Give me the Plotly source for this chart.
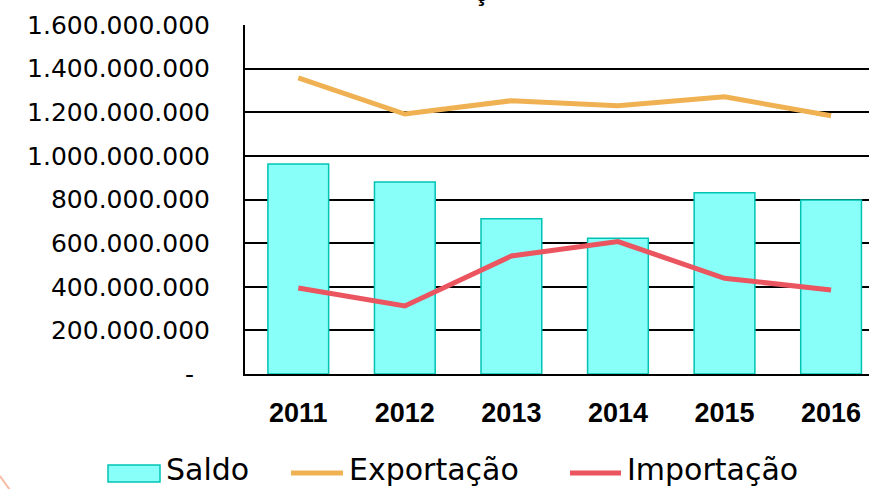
import plotly.graph_objects as go

years = ["2011", "2012", "2013", "2014", "2015", "2016"]
saldo = [963e6, 880e6, 712e6, 622e6, 831e6, 798e6]
exportacao = [1358e6, 1192e6, 1253e6, 1230e6, 1271e6, 1184e6]
importacao = [394e6, 312e6, 541e6, 607e6, 439e6, 385e6]

ytick_vals = [0, 200e6, 400e6, 600e6, 800e6, 1000e6, 1200e6, 1400e6, 1600e6]
ytick_text = ["-\u00a0\u00a0", "200.000.000", "400.000.000", "600.000.000", "800.000.000",
              "1.000.000.000", "1.200.000.000", "1.400.000.000", "1.600.000.000"]

W, H = 869, 489
L, R, T, B = 245, 0, 25, 115
PW, PH = W - L - R, H - T - B

def px(x):
    return (x - L) / PW

def py(y):
    return (H - B - y) / PH

C_BAR = "#88FFF8"
C_BAR_LINE = "#00C3B3"
C_EXP = "#EFB152"
C_IMP = "#EA5560"

fig = go.Figure()
fig.add_trace(go.Bar(x=years, y=saldo, name="Saldo", width=0.57,
                     marker=dict(color=C_BAR, line=dict(color=C_BAR_LINE, width=1.5)),
                     showlegend=False))
fig.add_trace(go.Scatter(x=years, y=exportacao, name="Exportação", mode="lines",
                         line=dict(color=C_EXP, width=5), showlegend=False))
fig.add_trace(go.Scatter(x=years, y=importacao, name="Importação", mode="lines",
                         line=dict(color=C_IMP, width=5), showlegend=False))

fig.update_layout(
    width=W, height=H, autosize=False,
    margin=dict(l=L, r=R, t=T, b=B, pad=0),
    paper_bgcolor="white", plot_bgcolor="white",
    font=dict(family="DejaVu Sans", color="black"),
)
fig.update_xaxes(type="category", range=[-0.5, 5.356],
                 showline=True, linecolor="black", linewidth=2,
                 showgrid=False, ticks="", ticklabelstandoff=14,
                 tickfont=dict(family="Liberation Sans", size=27, color="black", weight="bold"))
fig.update_yaxes(range=[0, 1.6e9], tickvals=ytick_vals, ticktext=ytick_text,
                 showline=True, linecolor="black", linewidth=2,
                 showgrid=True, gridcolor="black", gridwidth=2, zeroline=False,
                 ticks="", ticklabelstandoff=28,
                 tickfont=dict(family="DejaVu Sans", size=25, color="black"))

# legend (drawn manually to match symbol sizes)
shapes = [
    dict(type="rect", xref="paper", yref="paper", x0=px(108), x1=px(160), y0=py(482), y1=py(465),
         fillcolor=C_BAR, line=dict(color=C_BAR_LINE, width=1.5)),
    dict(type="line", xref="paper", yref="paper", x0=px(291), x1=px(343), y0=py(473), y1=py(473),
         line=dict(color=C_EXP, width=5)),
    dict(type="line", xref="paper", yref="paper", x0=px(570), x1=px(621), y0=py(473), y1=py(473),
         line=dict(color=C_IMP, width=5)),
    dict(type="path", xref="paper", yref="paper",
         path=f"M {px(0)},{py(476)} Q {px(4)},{py(482)} {px(10)},{py(490)}",
         line=dict(color="#F9BBA3", width=2)),
]
LEG_FONT = dict(family="DejaVu Sans", size=30, color="black")
annotations = [
    dict(text="Saldo", x=px(164), y=py(470), xref="paper", yref="paper", xanchor="left", yanchor="middle",
         showarrow=False, font=LEG_FONT),
    dict(text="Exportação", x=px(347), y=py(470), xref="paper", yref="paper", xanchor="left", yanchor="middle",
         showarrow=False, font=LEG_FONT),
    dict(text="Importação", x=px(625), y=py(470), xref="paper", yref="paper", xanchor="left", yanchor="middle",
         showarrow=False, font=LEG_FONT),
    dict(text="ç", x=px(481), y=py(-8), xref="paper", yref="paper", xanchor="center", yanchor="middle",
         showarrow=False, font=dict(family="Liberation Sans", size=26, color="black", weight="bold")),
]
fig.update_layout(shapes=shapes, annotations=annotations)

fig.write_html("out.html", config={"displayModeBar": False},
               post_script="document.body.style.margin='0';document.body.style.overflow='hidden';")
